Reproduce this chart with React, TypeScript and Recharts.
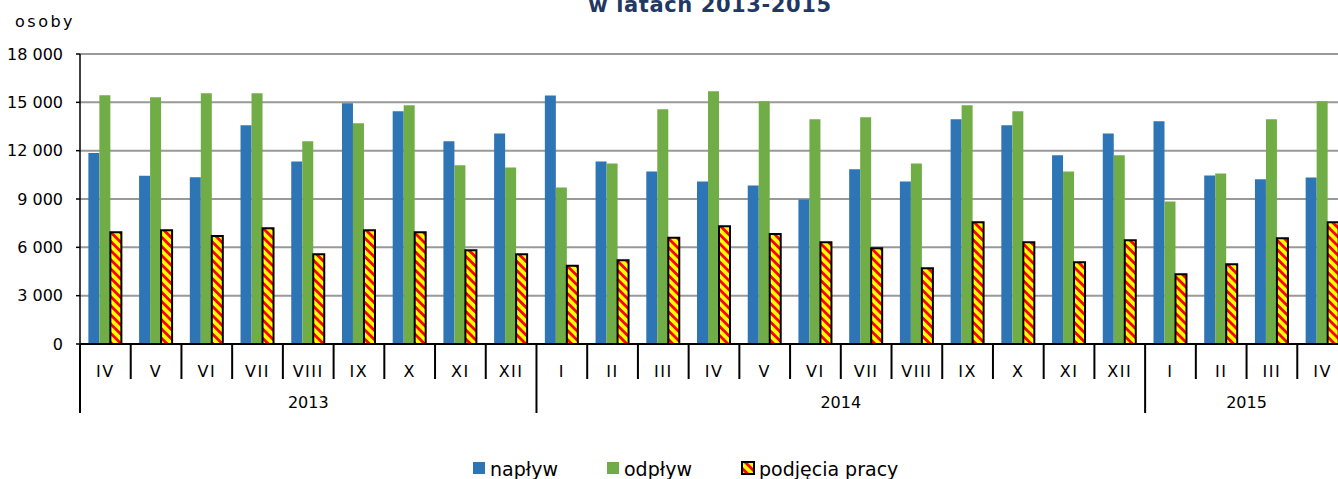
import React from "react";
import { BarChart, Bar, XAxis, YAxis, CartesianGrid } from "recharts";

const months = [
  "IV", "V", "VI", "VII", "VIII", "IX", "X", "XI", "XII",
  "I", "II", "III", "IV", "V", "VI", "VII", "VIII", "IX", "X", "XI", "XII",
  "I", "II", "III", "IV",
];
const yearNames = ["2013", "2014", "2015"];
const yearSpans = [9, 12, 4];

const naplyw = [
  11850, 10450, 10350, 13570, 11330, 14950, 14450, 12580, 13070,
  15430, 11330, 10710, 10090, 9840, 8970, 10840, 10090, 13950, 13570, 11710, 13070,
  13820, 10460, 10220, 10340,
];
const odplyw = [
  15440, 15310, 15560, 15560, 12580, 13700, 14820, 11090, 10960,
  9720, 11210, 14570, 15690, 15060, 13950, 14070, 11210, 14820, 14440, 10710, 11710,
  8850, 10590, 13950, 15060,
];
const podjecia = [
  6930, 7060, 6710, 7190, 5570, 7060, 6940, 5820, 5570,
  4850, 5200, 6590, 7310, 6820, 6320, 5950, 4700, 7560, 6320, 5080, 6440,
  4330, 4950, 6570, 7560,
];
const yTicks = [0, 3000, 6000, 9000, 12000, 15000, 18000];

const BLUE = "#2E75B6";
const GREEN = "#70AD47";
const FONT = "DejaVu Sans, Verdana, sans-serif";

const CHART_W = 1360;
const CHART_H = 479;
const Y_W = 80;
const M_RIGHT = 12;
const BAND = (CHART_W - Y_W - M_RIGHT) / months.length;

// cumulative start index of each year group
const yearStarts = yearSpans.map((_, i) =>
  yearSpans.slice(0, i).reduce((a, b) => a + b, 0)
);

let yr = 0;
const data = months.map((m, i) => {
  if (yr + 1 < yearStarts.length && i >= yearStarts[yr + 1]) yr++;
  return {
    key: `${m}-${yearNames[yr]}`,
    naplyw: naplyw[i],
    odplyw: odplyw[i],
    podjecia: podjecia[i],
  };
});

const fmt = (v: number) => String(v).replace(/\B(?=(\d{3})+(?!\d))/g, " ");

// eslint-disable-next-line @typescript-eslint/no-explicit-any
function MonthTick({ x, y, index }: any) {
  const half = BAND / 2;
  const g = yearStarts.indexOf(index);
  const isStart = g >= 0;
  return (
    <g>
      <line
        x1={x - half}
        x2={x - half}
        y1={y}
        y2={y + (isStart ? 69 : 35)}
        stroke="#000"
        strokeWidth={2}
      />
      {index === months.length - 1 && (
        <line x1={x + half} x2={x + half} y1={y} y2={y + 69} stroke="#000" strokeWidth={2} />
      )}
      <text
        x={x}
        y={y + 33}
        textAnchor="middle"
        fontFamily={FONT}
        fontSize={16}
        letterSpacing={1.5}
        fill="#000"
      >
        {months[index]}
      </text>
      {isStart && (
        <text
          x={x - half + (yearSpans[g] * BAND) / 2}
          y={y + 64}
          textAnchor="middle"
          fontFamily={FONT}
          fontSize={16}
          fill="#000"
        >
          {yearNames[g]}
        </text>
      )}
    </g>
  );
}

function Hatch({ id }: { id: string }) {
  return (
    <pattern
      id={id}
      patternUnits="userSpaceOnUse"
      width={6.5}
      height={6.5}
      patternTransform="rotate(45)"
    >
      <rect width={6.5} height={6.5} fill="#FFFF00" />
      <rect width={6.5} height={2.8} fill="#FF0000" />
    </pattern>
  );
}

const legendItems = [
  { label: "napływ", fill: BLUE, x: 473, stroke: "none" },
  { label: "odpływ", fill: GREEN, x: 607, stroke: "none" },
  { label: "podjęcia pracy", fill: "url(#hatch2)", x: 742, stroke: "#000" },
];

export default function App() {
  return (
    <div
      style={{
        position: "fixed",
        left: 0,
        top: 0,
        width: 1338,
        height: 479,
        overflow: "hidden",
        background: "#fff",
      }}
    >
      <BarChart
        width={CHART_W}
        height={CHART_H}
        data={data}
        margin={{ top: 54, right: M_RIGHT, bottom: 0, left: 0 }}
        barCategoryGap="16.5%"
        barGap={0}
      >
        <defs>
          <Hatch id="hatch" />
        </defs>
        <CartesianGrid vertical={false} stroke="#999" strokeWidth={2} />
        <XAxis
          dataKey="key"
          interval={0}
          height={135}
          tickSize={0}
          tickMargin={0}
          tickLine={false}
          axisLine={{ stroke: "#000", strokeWidth: 2 }}
          tick={<MonthTick />}
        />
        <YAxis
          width={Y_W}
          domain={[0, 18000]}
          ticks={yTicks}
          interval={0}
          tickFormatter={fmt}
          tickSize={4}
          tickMargin={13}
          axisLine={{ stroke: "#000", strokeWidth: 1.5 }}
          tickLine={{ stroke: "#000", strokeWidth: 1.5 }}
          tick={{ fill: "#000", fontSize: 16, fontFamily: FONT }}
        />
        <Bar dataKey="naplyw" fill={BLUE} isAnimationActive={false} />
        <Bar dataKey="odplyw" fill={GREEN} isAnimationActive={false} />
        <Bar
          dataKey="podjecia"
          fill="url(#hatch)"
          stroke="#000"
          strokeWidth={2}
          isAnimationActive={false}
        />
      </BarChart>
      <svg
        width={1338}
        height={479}
        style={{ position: "absolute", left: 0, top: 0, pointerEvents: "none" }}
      >
        <defs>
          <Hatch id="hatch2" />
        </defs>
        <text
          x={710}
          y={11.5}
          textAnchor="middle"
          fontFamily={FONT}
          fontWeight="bold"
          fontSize={21}
          letterSpacing={0.6}
          fill="#1F3864"
        >
          w latach 2013-2015
        </text>
        <text x={15} y={27} fontFamily={FONT} fontSize={16} letterSpacing={2.5} fill="#000">
          osoby
        </text>
        {legendItems.map((it) => (
          <g key={it.label}>
            <rect
              x={it.x}
              y={462}
              width={12}
              height={12}
              fill={it.fill}
              stroke={it.stroke}
              strokeWidth={2}
            />
            <text
              x={it.x + 17}
              y={476}
              fontFamily={FONT}
              fontSize={19}
              fill="#000"
            >
              {it.label}
            </text>
          </g>
        ))}
      </svg>
    </div>
  );
}
